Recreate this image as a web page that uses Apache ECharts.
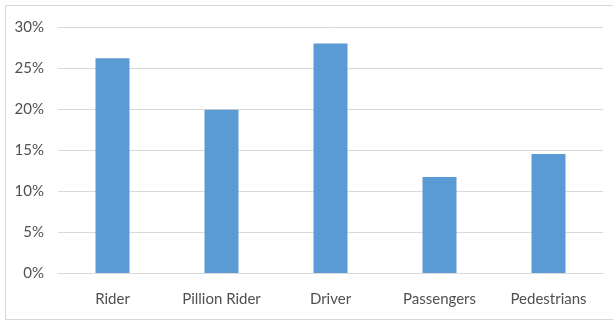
<!DOCTYPE html>
<html>
<head>
<meta charset="utf-8">
<script src="https://cdn.jsdelivr.net/npm/echarts@6/dist/echarts.min.js"></script>
<style>
  html, body { margin: 0; padding: 0; background: #ffffff; }
  #frame {
    position: absolute; left: 5px; top: 5px; width: 620px; height: 315px;
    border: 1px solid #d9d9d9; box-sizing: border-box;
  }
  #chart { position: absolute; left: 0; top: 0; width: 613px; height: 323px; }
</style>
</head>
<body>
<div id="frame"></div>
<div id="chart"></div>
<script>
// Share of road casualties by road-user type
const categories = ['Rider', 'Pillion Rider', 'Driver', 'Passengers', 'Pedestrians'];
const shares = [0.262, 0.199, 0.280, 0.117, 0.145];
const yTicks = [0, 0.05, 0.10, 0.15, 0.20, 0.25, 0.30];

const font = 'Lato, "Open Sans", sans-serif';
const chart = echarts.init(document.getElementById('chart'));
chart.setOption({
  animation: false,
  grid: { left: 58, right: 10, top: 27, bottom: 50, containLabel: false },
  xAxis: {
    type: 'category',
    data: categories,
    axisLine: { show: true, lineStyle: { color: '#d9d9d9', width: 1 } },
    axisTick: { show: false },
    axisLabel: { color: '#505050', fontFamily: font, fontSize: 15, margin: 19 }
  },
  yAxis: {
    type: 'value',
    min: yTicks[0],
    max: yTicks[yTicks.length - 1],
    interval: 0.05,
    axisLine: { show: false },
    axisTick: { show: false },
    splitLine: { lineStyle: { color: '#d9d9d9', width: 1 } },
    axisLabel: {
      color: '#505050', fontFamily: font, fontSize: 15, margin: 14,
      formatter: v => Math.round(v * 100) + '%'
    }
  },
  series: [{
    type: 'bar',
    data: shares,
    barWidth: 34,
    itemStyle: { color: '#5b9bd5' }
  }]
});
</script>
</body>
</html>
